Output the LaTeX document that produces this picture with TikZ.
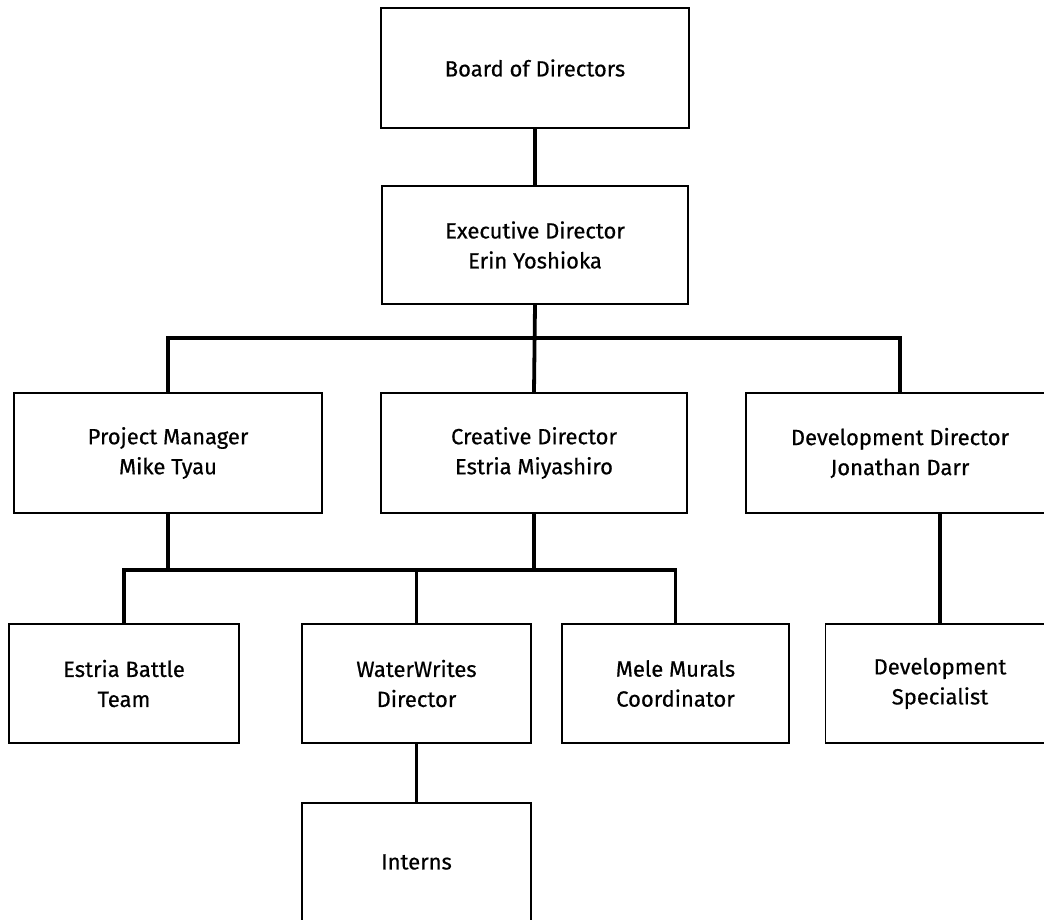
\documentclass[tikz,border=0pt]{standalone}
\usepackage{fontspec}
\setmainfont{Fira Sans}[Ligatures=NoCommon, FakeBold=0.5]
\begin{document}
\begin{tikzpicture}[x=1pt,y=-1pt,
  box/.style={draw=black, line width=1.8pt, rectangle, inner sep=0pt, align=center,
    font=\fontsize{22}{30}\selectfont},
  conn/.style={draw=black, line width=3.8pt}]
\useasboundingbox (0,0) rectangle (1044,920);
\clip (0,0) rectangle (1044,920);
\fill[white] (0,0) rectangle (1044,920);
% top
\node[box, minimum width=308pt, minimum height=120pt] (board) at (535,68) {Board of Directors};
\node[box, minimum width=306pt, minimum height=118pt] (exec) at (535,245) {Executive Director\\Erin Yoshioka};
% middle row
\node[box, minimum width=308pt, minimum height=120pt] (pm) at (168,453) {Project Manager\\Mike Tyau};
\node[box, minimum width=306pt, minimum height=120pt] (creative) at (534,453) {Creative Director\\Estria Miyashiro};
\node[box, minimum width=308pt, minimum height=120pt] (devdir) at (900,453) {Development Director\\Jonathan Darr};
% lower row
\node[box, minimum width=230pt, minimum height=119pt] (estria) at (124,683.5) {Estria Battle\\Team};
\node[box, minimum width=229pt, minimum height=119pt] (water) at (416.5,683.5) {WaterWrites\\Director};
\node[box, minimum width=227pt, minimum height=119pt] (mele) at (675.5,683.5) {Mele Murals\\Coordinator};
\node[box, minimum width=229pt, minimum height=119pt] (devspec) at (940,683.5) {Development\\Specialist};
% interns
\node[box, minimum width=229pt, minimum height=140pt] (interns) at (416.5,873) {};
\node[font=\fontsize{22}{30}\selectfont, inner sep=0pt] (internslabel) at (416.5,862) {Interns};
% connectors
\coordinate (bar1) at (535,338);
\coordinate (bar2) at (534,570);
\draw[conn] (board.south) -- (exec.north);
\draw[conn] (exec.south) -- (creative.north);
\draw[conn] (pm.north) |- (bar1) -| (devdir.north);
\draw[conn] (pm.south) -- (pm.south |- bar2);
\draw[conn] (creative.south) -- (creative.south |- bar2);
\draw[conn] (estria.north) |- (bar2) -| (mele.north);
\draw[conn] (water.north) -- (water.north |- bar2);
\draw[conn] (water.south) -- (interns.north);
\draw[conn] (devdir.south -| devspec.north) -- (devspec.north);
\end{tikzpicture}
\end{document}
